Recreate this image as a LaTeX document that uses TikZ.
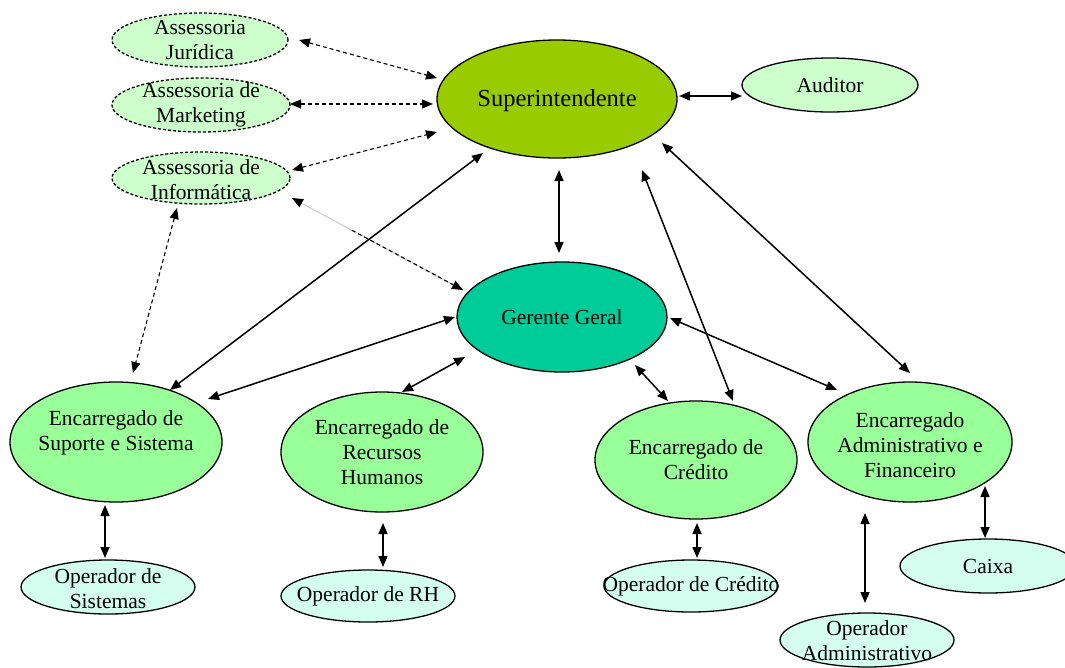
\documentclass[tikz,border=0pt]{standalone}
\usepackage{fontspec}
\setmainfont{Liberation Serif}
\usetikzlibrary{shapes.geometric,arrows.meta,calc}
\definecolor{supc}{HTML}{99CC00}
\definecolor{gerc}{HTML}{00CC99}
\definecolor{encc}{HTML}{99FF99}
\definecolor{assc}{HTML}{CCFFCC}
\definecolor{opc}{HTML}{D4FFF0}
\begin{document}
\begin{tikzpicture}[x=1pt,y=-1pt,
  box/.style={ellipse,draw=black,line width=1.3pt,inner sep=0pt},
  txt/.style={align=center,inner sep=0pt,font=\fontsize{21.5}{25}\selectfont},
  sz/.style 2 args={minimum width=#1pt,minimum height=#2pt},
  supbox/.style={box,fill=supc},
  gerbox/.style={box,fill=gerc},
  encbox/.style={box,fill=encc},
  assbox/.style={box,fill=assc,dash pattern=on 3pt off 2pt},
  audbox/.style={box,fill=assc},
  opbox/.style={box,fill=opc},
  conn/.style={line width=1.5pt,{Triangle[length=11pt,width=9pt]}-{Triangle[length=11pt,width=9pt]}},
  dconn/.style={line width=1.1pt,dash pattern=on 4pt off 3pt,{Triangle[length=11pt,width=9pt]}-{Triangle[length=11pt,width=9pt]}},
  dhalf/.style={line width=1.1pt,dash pattern=on 4pt off 3pt,-{Triangle[length=11pt,width=9pt]}},
  ghalf/.style={line width=1pt,gray!40,{Triangle[length=11pt,width=9pt,black]}-}]
\useasboundingbox (0,0) rectangle (1065,667);
\fill[white] (0,0) rectangle (1065,667);
\clip (0,0) rectangle (1065,667);

% nodes (ellipse with its text as a centred label)
\node[supbox,sz={240}{118},label={[txt,font=\fontsize{24.5}{28}\selectfont,yshift=-2pt]center:Superintendente}] (sup) at (557,99) {};
\node[audbox,sz={176}{54},label={[txt]center:Auditor}] (aud) at (830,85) {};
\node[assbox,sz={176}{54},label={[txt]center:Assessoria\\Jurídica}] (jur) at (200,40) {};
\node[assbox,sz={178}{54},label={[txt]center:Assessoria de\\Marketing}] (mkt) at (201,105) {};
\node[assbox,sz={178}{52},label={[txt,yshift=-2pt]center:Assessoria de\\Informática}] (inf) at (201,178) {};
\node[gerbox,sz={210}{110},label={[txt]center:Gerente Geral}] (ger) at (562,317) {};
\node[encbox,sz={212}{120},label={[txt,yshift=9pt]center:Encarregado de\\Suporte e Sistema}] (enss) at (116,442) {};
\node[encbox,sz={202}{120},label={[txt]center:Encarregado de\\Recursos\\Humanos}] (enrh) at (382,452) {};
\node[encbox,sz={202}{118},label={[txt]center:Encarregado de\\Crédito}] (encr) at (696,460) {};
\node[encbox,sz={204}{120},label={[txt,yshift=-3pt]center:Encarregado\\Administrativo e\\Financeiro}] (enad) at (910,442) {};
\node[opbox,sz={174}{54},label={[txt,yshift=-2pt]center:Operador de\\Sistemas}] (opss) at (108,587) {};
\node[opbox,sz={174}{52},label={[txt]center:Operador de RH}] (oprh) at (368,596) {};
\node[opbox,sz={174}{52},label={[txt]center:Operador de Crédito}] (opcr) at (691,586) {};
\node[opbox,sz={176}{54},label={[txt]center:Caixa}] (caixa) at (988,566) {};
\node[opbox,sz={174}{54},label={[txt,yshift=-1pt]center:Operador\\Administrativo}] (opad) at (867,640) {};

% connector end points
\coordinate (jurE) at (299,40);   \coordinate (supJ) at (437,78);
\coordinate (mktE) at (290,104);  \coordinate (supM) at (433,104);
\coordinate (infE) at (292,170);  \coordinate (supI) at (437,132);
\coordinate (infG) at (292,198);  \coordinate (gerI) at (463,290);
\coordinate (infS) at (177,208);  \coordinate (ensI) at (133,373);
\coordinate (supA) at (679,96);   \coordinate (audS) at (742,96);
\coordinate (supG) at (559,170);  \coordinate (gerS) at (559,253);
\coordinate (supS) at (483,153);  \coordinate (ensS) at (170,390);
\coordinate (supC) at (642,170);  \coordinate (encS) at (733,401);
\coordinate (supD) at (662,143);  \coordinate (enaS) at (910,373);
\coordinate (gerE) at (455,317);  \coordinate (ensG) at (208,399);
\coordinate (gerR) at (465,357);  \coordinate (enrG) at (402,392);
\coordinate (gerC) at (635,365);  \coordinate (encG) at (668,401);
\coordinate (gerD) at (670,318);  \coordinate (enaG) at (837,390);
\coordinate (ensO) at (105,505);  \coordinate (opsE) at (105,558);
\coordinate (enrO) at (383,523);  \coordinate (oprE) at (383,567);
\coordinate (encO) at (697,523);  \coordinate (opcE) at (697,558);
\coordinate (enaO) at (865,513);  \coordinate (opaE) at (865,603);
\coordinate (enaC) at (985,486);  \coordinate (caiE) at (985,538);

% dashed connectors
\draw[dconn] (jurE) -- (supJ);
\draw[dconn] (mktE) -- (supM);
\draw[dconn] (infE) -- (supI);
\draw[dconn] (infS) -- (ensI);
\draw[ghalf] (infG) -- (gerI);
\draw[dhalf] ($(infG)!0.35!(gerI)$) -- (gerI);

% solid connectors
\draw[conn] (supA) -- (audS);
\draw[conn] (supG) -- (gerS);
\draw[conn] (supS) -- (ensS);
\draw[conn] (supC) -- (encS);
\draw[conn] (supD) -- (enaS);
\draw[conn] (gerE) -- (ensG);
\draw[conn] (gerR) -- (enrG);
\draw[conn] (gerC) -- (encG);
\draw[conn] (gerD) -- (enaG);
\draw[conn] (ensO) -- (opsE);
\draw[conn] (enrO) -- (oprE);
\draw[conn] (encO) -- (opcE);
\draw[conn] (enaO) -- (opaE);
\draw[conn] (enaC) -- (caiE);
\end{tikzpicture}
\end{document}
